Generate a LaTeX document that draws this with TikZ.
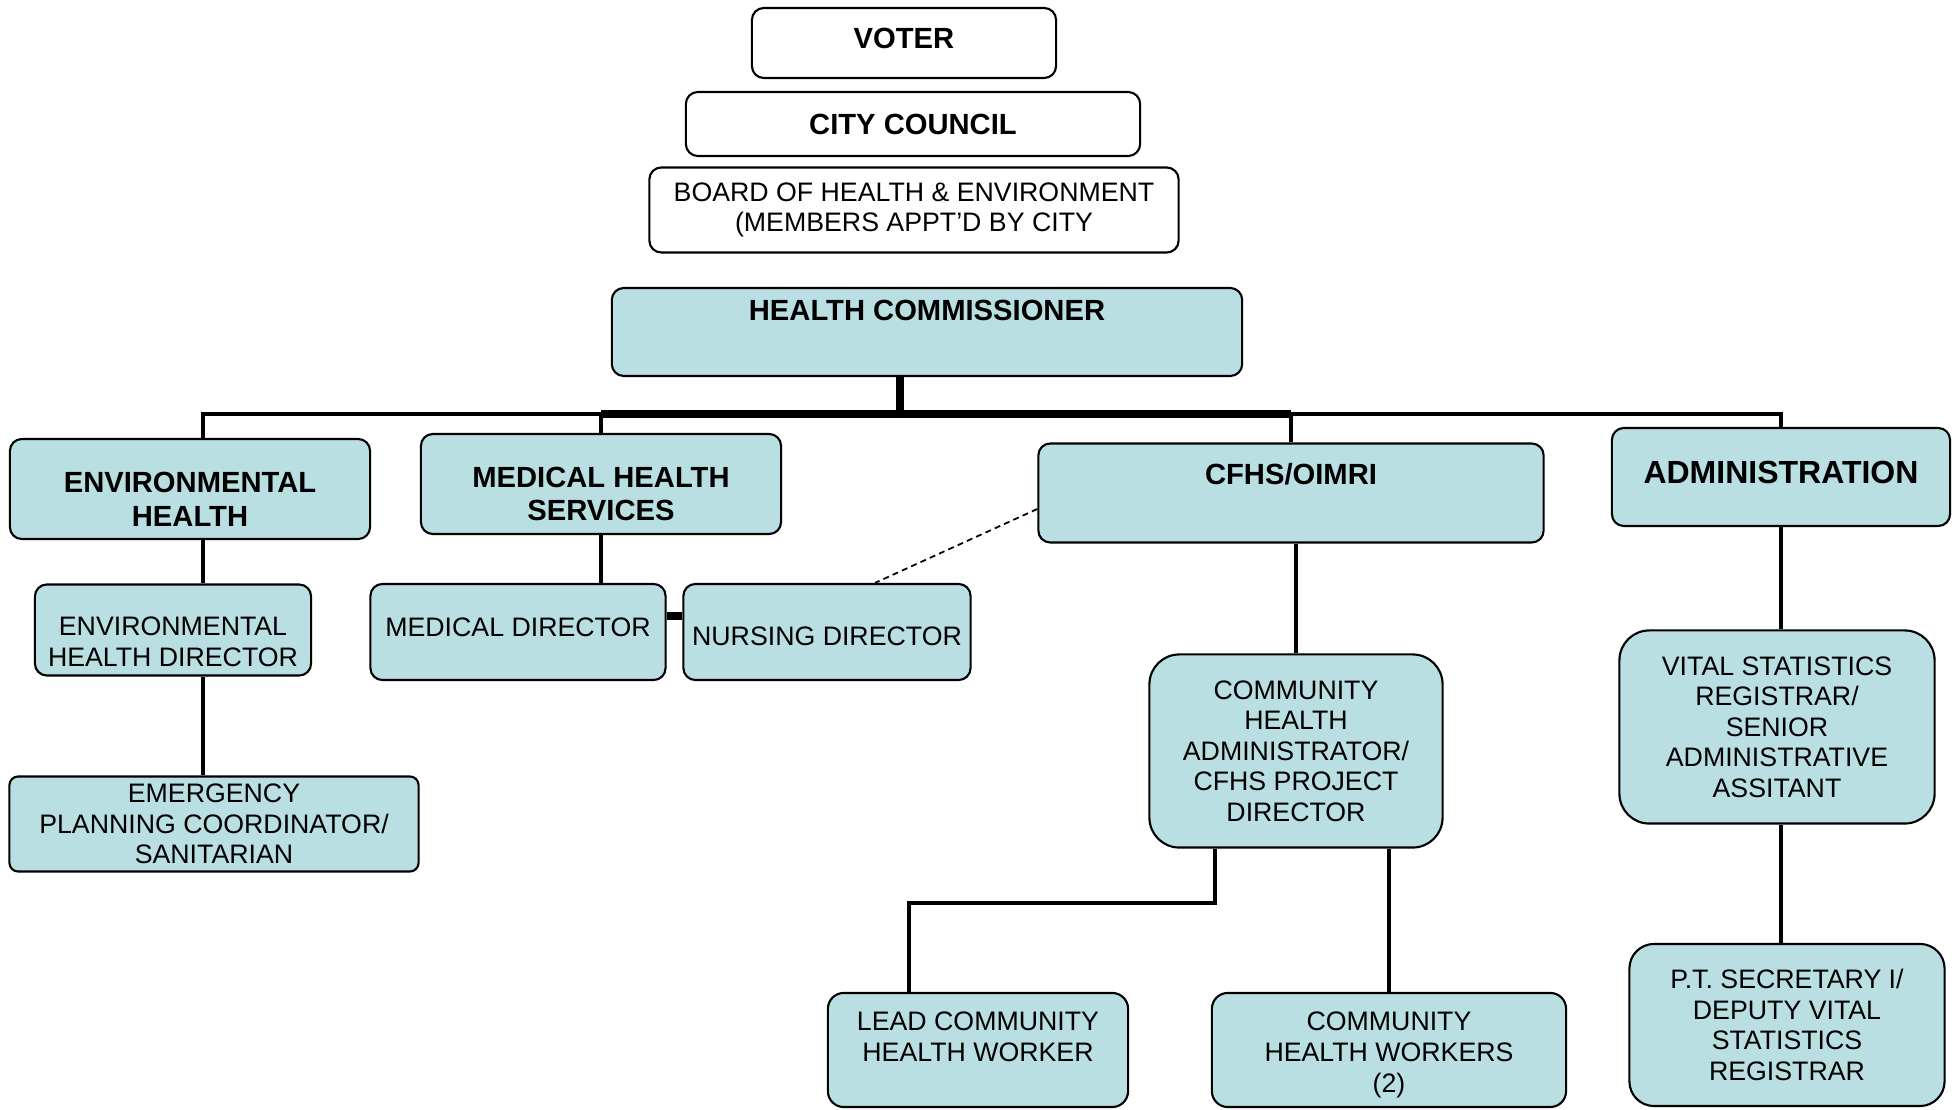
\documentclass[tikz,border=0pt]{standalone}
\usepackage{fontspec}
\setmainfont{Liberation Sans}
\usetikzlibrary{positioning,calc}
\definecolor{boxblue}{RGB}{185,223,226}
\newcommand{\rg}{\fontsize{7.6}{8.7}\selectfont}
\newcommand{\bd}{\fontsize{8.3}{9.6}\selectfont\bfseries}
\newcommand{\bdbig}{\fontsize{9.1}{10.5}\selectfont\bfseries}

\begin{document}
\begin{tikzpicture}[x=0.01cm,y=-0.01cm,
  box/.style={draw,line width=0.6pt,rounded corners=3.4pt,fill=boxblue,align=center,inner sep=0pt,font=\rg},
  plain/.style={box,fill=white},
  tall/.style={box,rounded corners=8.5pt},
  txt/.style={align=center,inner sep=0pt,font=\rg},
  link/.style={line width=1.3pt},
  heavy/.style={line width=2.1pt},
  dotlink/.style={line width=0.5pt,dash pattern=on 1.7pt off 1.2pt}]
        \useasboundingbox (0,0) rectangle (1959,1110);

        %nodes
        \node[plain,minimum width=3.04cm,minimum height=0.70cm] (voter) at (904,43) {};
        \node[txt,font=\bd] (votertxt) at ($(voter)+(0,-5)$) {VOTER};
        \node[plain,font=\bd,minimum width=4.54cm,minimum height=0.64cm] (council) at (913,124) {CITY COUNCIL};
        \node[plain,minimum width=5.29cm,minimum height=0.85cm] (board) at (914,210) {BOARD OF HEALTH \& ENVIRONMENT\\(MEMBERS APPT’D BY CITY};

        \node[box,minimum width=6.30cm,minimum height=0.88cm] (comm) at (927,332) {};
        \node[txt,font=\bd] (commtxt) at ($(comm.north)+(0,24)$) {HEALTH COMMISSIONER};

        \node[box,minimum width=3.60cm,minimum height=1.00cm] (env) at (190,489) {};
        \node[txt,font=\bd] (envtxt) at ($(env)+(0,10)$) {ENVIRONMENTAL\\HEALTH};
        \node[box,minimum width=3.60cm,minimum height=1.00cm] (mhs) at (601,484) {};
        \node[txt,font=\bd] (mhstxt) at ($(mhs)+(0,10)$) {MEDICAL HEALTH\\SERVICES};
        \node[box,minimum width=5.05cm,minimum height=0.99cm] (cfhs) at (1291,493) {};
        \node[txt,font=\bd] (cfhstxt) at ($(cfhs.north)+(0,32)$) {CFHS/OIMRI};
        \node[box,minimum width=3.38cm,minimum height=0.98cm] (adm) at (1781,477) {};
        \node[txt,font=\bdbig] (admtxt) at ($(adm)+(0,-5)$) {ADMINISTRATION};

        \node[box,minimum width=2.76cm,minimum height=0.91cm] (envdir) at (173,630) {};
        \node[txt] (envdirtxt) at ($(envdir)+(0,12)$) {ENVIRONMENTAL\\HEALTH DIRECTOR};
        \node[box,rounded corners=2.5pt,minimum width=4.09cm,minimum height=0.95cm] (emerg) at (214,824) {EMERGENCY\\PLANNING COORDINATOR/\\SANITARIAN};
        \node[box,minimum width=2.95cm,minimum height=0.96cm] (meddir) at (518,632) {};
        \node[txt] (meddirtxt) at ($(meddir)+(0,-5)$) {MEDICAL DIRECTOR};
        \node[box,minimum width=2.87cm,minimum height=0.96cm] (nursdir) at (827,632) {};
        \node[txt] (nursdirtxt) at ($(nursdir)+(0,4)$) {NURSING DIRECTOR};

        \node[tall,minimum width=2.93cm,minimum height=1.93cm] (chadm) at (1296,751) {COMMUNITY\\HEALTH\\ADMINISTRATOR/\\CFHS PROJECT\\DIRECTOR};
        \node[tall,minimum width=3.15cm,minimum height=1.93cm] (vital) at (1777,727) {VITAL STATISTICS\\REGISTRAR/\\SENIOR\\ADMINISTRATIVE\\ASSITANT};

        \node[box,rounded corners=4.5pt,minimum width=3.00cm,minimum height=1.14cm] (lead) at (978,1050) {};
        \node[txt] (leadtxt) at ($(lead.north)+(0,45)$) {LEAD COMMUNITY\\HEALTH WORKER};
        \node[box,rounded corners=4.5pt,minimum width=3.54cm,minimum height=1.14cm] (workers) at (1389,1050) {};
        \node[txt] (workerstxt) at ($(workers)+(0,5)$) {COMMUNITY\\HEALTH WORKERS\\(2)};
        \node[tall,rounded corners=7pt,minimum width=3.15cm,minimum height=1.62cm] (secr) at (1787,1025) {P.T. SECRETARY I/\\DEPUTY VITAL\\STATISTICS\\REGISTRAR};

        %lines
        \coordinate (busL) at (203,414);
        \coordinate (busR) at (1781,414);
        \coordinate (trunk) at (900,414);
        \draw[link] (env.north -| busL) -- (busL) -- (busR) -- (adm.north);
        \draw[heavy] (mhs.north |- busL) -- (cfhs.north |- busL);
        \draw[heavy] (comm.south -| trunk) -- (trunk);
        \draw[link] (mhs.north) -- (mhs.north |- busL);
        \draw[link] (cfhs.north) -- (cfhs.north |- busL);

        \draw[link] (env.south -| busL) -- (envdir.north -| busL);
        \draw[link] (envdir.south -| busL) -- (emerg.north -| busL);
        \draw[link] (mhs.south) -- (mhs.south |- meddir.north);
        \draw[heavy] ($(meddir.east)+(0,-16)$) -- ($(nursdir.west)+(0,-16)$);
        \draw[dotlink] ($(cfhs.west)+(0,16)$) -- ($(nursdir.north)+(48,0)$);

        \draw[link] (chadm.north |- cfhs.south) -- (chadm.north);
        \coordinate (legA) at (1215,903);
        \coordinate (legB) at (909,903);
        \draw[link] (chadm.south -| legA) -- (legA) -- (legB) -- (lead.north -| legB);
        \draw[link] (workers.north |- chadm.south) -- (workers.north);

        \draw[link] (adm.south) -- (adm.south |- vital.north);
        \draw[link] (adm.south |- vital.south) -- (adm.south |- secr.north);
\end{tikzpicture}
\end{document}
